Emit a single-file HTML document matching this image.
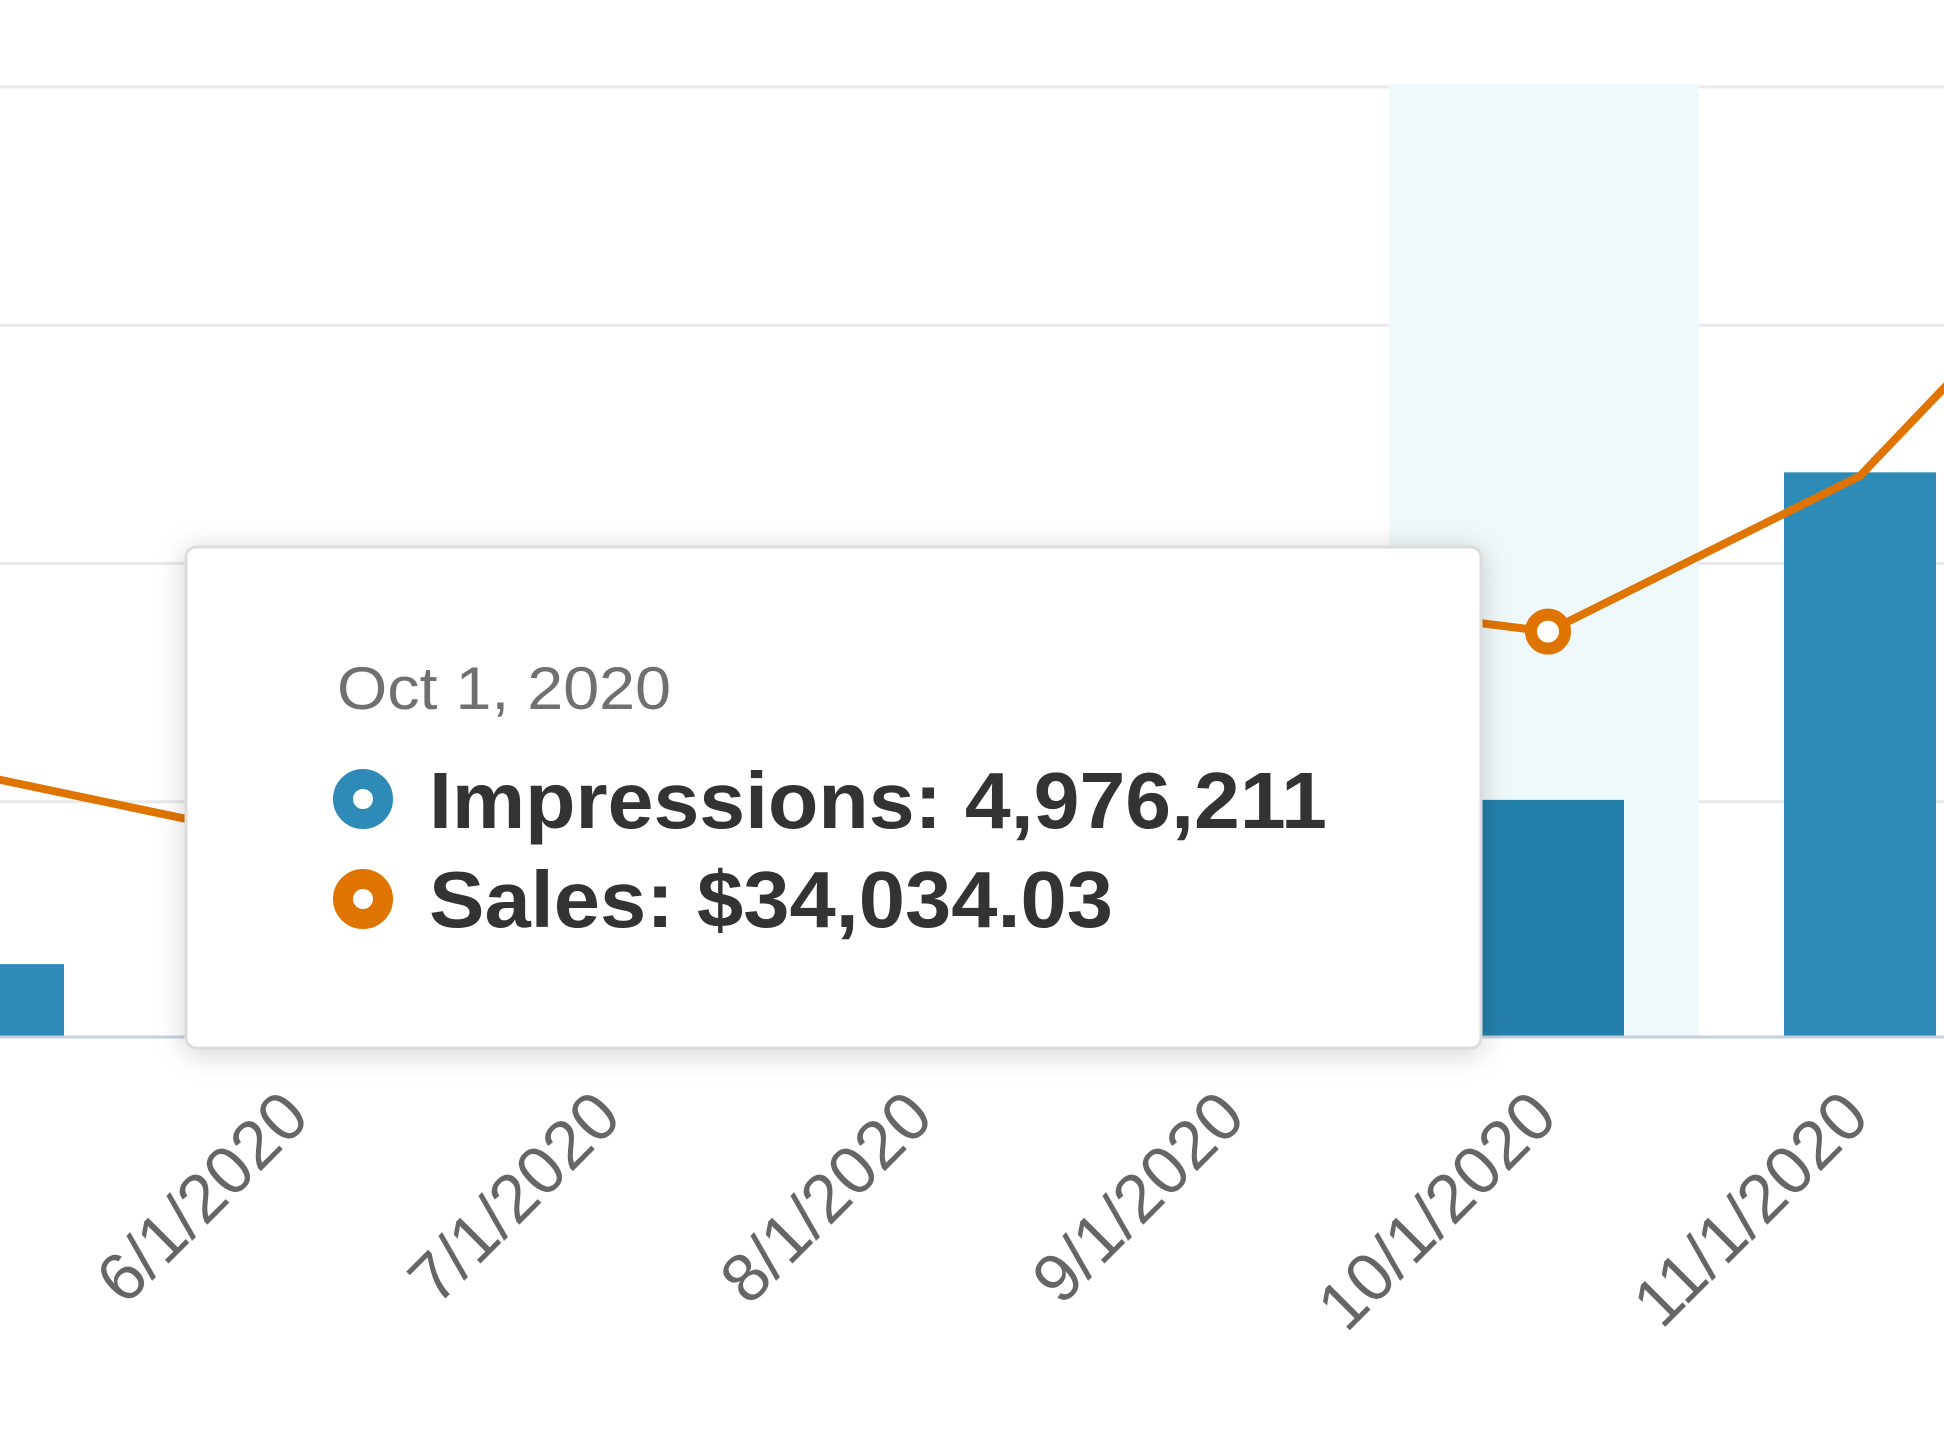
<!DOCTYPE html>
<html><head><meta charset="utf-8"><style>
html,body{margin:0;padding:0;background:#fff;width:1944px;height:1440px;overflow:hidden}
svg{display:block;font-family:"Liberation Sans",sans-serif}
</style></head><body>
<svg id="chart" width="1944" height="1440" viewBox="0 0 1944 1440">
<defs>
<filter id="sh" x="-20%" y="-20%" width="140%" height="140%"><feDropShadow dx="0" dy="4" stdDeviation="14" flood-color="#000" flood-opacity="0.18"/></filter>
</defs>
<g id="grid"></g>
<rect x="1389" y="84" width="310" height="953" fill="#eff8fa"/>
<g id="bars"></g>
<line x1="0" y1="1037" x2="1944" y2="1037" stroke="#c3d0dc" stroke-width="3"/>
<g id="line"></g>
<g id="xlabels"></g>
<g>
<rect x="186" y="547" width="1295" height="501" rx="10" fill="#fff" stroke="#dcdcdc" stroke-width="3" filter="url(#sh)"/>
<text x="337" y="709" font-size="60" fill="#707070" textLength="334" lengthAdjust="spacingAndGlyphs">Oct 1, 2020</text>
<circle cx="363" cy="799" r="20" fill="#fff" stroke="#2e8bb8" stroke-width="20"/>
<text x="429" y="828" font-size="80" font-weight="bold" fill="#333" textLength="898" lengthAdjust="spacingAndGlyphs">Impressions: 4,976,211</text>
<circle cx="363" cy="899" r="20" fill="#fff" stroke="#df7400" stroke-width="20"/>
<text x="429" y="927" font-size="80" font-weight="bold" fill="#333" textLength="684" lengthAdjust="spacingAndGlyphs">Sales: $34,034.03</text>
</g>
</svg>
<script>
const categories = ["5/1/2020","6/1/2020","7/1/2020","8/1/2020","9/1/2020","10/1/2020","11/1/2020","12/1/2020"];
const impressions = [1530000, 2000000, 3000000, 3500000, 4000000, 4976211, 11850000, 13000000];
const sales = [21800, 16300, 20000, 28000, 37300, 34034.03, 47100, 74500];
const impTicks = [0, 5000000, 10000000, 15000000, 20000000];
const hoverIndex = 5;

const NS = "http://www.w3.org/2000/svg";
const baseY = 1037, plotH = 953, impMax = 20000000, salesMax = 80000;
const x = i => 1860 + (i - 6) * 312;
const yImp = v => baseY - v / impMax * plotH;
const ySales = v => baseY - v / salesMax * plotH;
function mk(tag, attrs, parent){const e=document.createElementNS(NS,tag);for(const k in attrs)e.setAttribute(k,attrs[k]);parent.appendChild(e);return e;}

const grid = document.getElementById('grid');
impTicks.slice(1).forEach(t => {
  const l = mk('line',{x1:0,x2:1944,y1:yImp(t)+3,y2:yImp(t)+3,stroke:'#e8eaea','stroke-width':3},grid);
  
  
});
const bars = document.getElementById('bars');
impressions.forEach((v,i) => {
  const r = mk('rect',{x:x(i)-76,y:yImp(v),width:152,height:baseY-yImp(v),fill:i===hoverIndex?'#2380ab':'#2e8bb8'},bars);
  
  
});
const lg = document.getElementById('line');
const p = mk('polyline',{points:sales.map((v,i)=>x(i)+','+ySales(v)).join(' '),fill:'none',stroke:'#df7400','stroke-width':8,'stroke-linejoin':'round'},lg);


const m = mk('circle',{cx:x(hoverIndex),cy:ySales(sales[hoverIndex]),r:17,fill:'#fff',stroke:'#df7400','stroke-width':12},lg);


const xl = document.getElementById('xlabels');
categories.forEach((c,i) => {
  const t = mk('text',{x:0,y:0,'text-anchor':'end','font-size':68,fill:'#666',transform:`translate(${x(i)+12},1120) rotate(-45)`},xl);
  t.textContent = c;
  
  
});
</script>
</body></html>
